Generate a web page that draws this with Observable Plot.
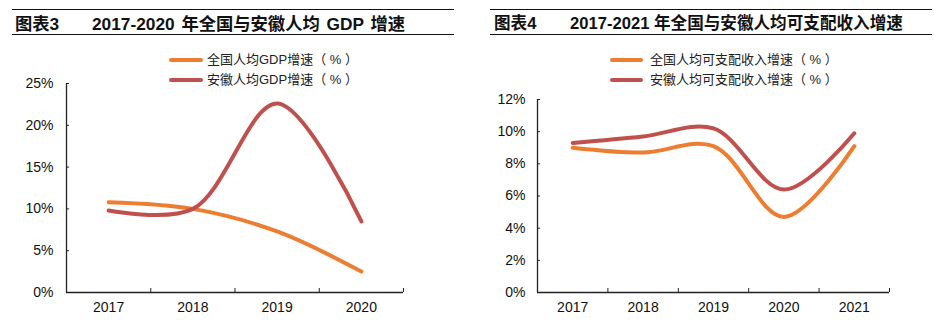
<!DOCTYPE html>
<html><head><meta charset="utf-8">
<script src="https://cdn.jsdelivr.net/npm/d3@7"></script>
<script src="https://cdn.jsdelivr.net/npm/@observablehq/plot@0.6"></script>
<style>
  body{margin:0;background:#fff;width:934px;height:322px;overflow:hidden;font-family:"Liberation Sans","Noto Sans CJK SC",sans-serif;}
  .panel{position:absolute;top:0;width:467px;height:322px;}
  .rule{position:absolute;height:0;border-top:1.6px solid #111;}
  .title{position:absolute;top:13px;font-size:16.6px;font-weight:bold;color:#111;font-family:"Liberation Sans","Noto Sans CJK SC",sans-serif;white-space:nowrap;line-height:22px;}
  .leg{position:absolute;font-size:13px;color:#222;white-space:nowrap;line-height:16px;font-family:"Liberation Sans","Noto Sans CJK SC",sans-serif;}
  .leg span.sw{position:absolute;height:4px;border-radius:2px;}
</style>
</head><body>
<div class="panel" id="p1" style="left:0"></div>
<div class="panel" id="p2" style="left:467px"></div>
<script>
// ---- Chart 3 data ----
const years3 = [2017, 2018, 2019, 2020];
const national3 = [10.8, 10.0, 7.3, 2.5];
const anhui3 = [9.8, 10.0, 22.6, 8.5];
const yTicks3 = [0, 5, 10, 15, 20, 25];
const series3Names = ["全国人均GDP增速（ % ）", "安徽人均GDP增速（ % ）"];
const title3a = "图表3";
const title3b = "2017-2020 年全国与安徽人均 GDP 增速";

// ---- Chart 4 data ----
const years4 = [2017, 2018, 2019, 2020, 2021];
const national4 = [9.0, 8.7, 9.1, 4.7, 9.1];
const anhui4 = [9.3, 9.7, 10.2, 6.4, 9.9];
const yTicks4 = [0, 2, 4, 6, 8, 10, 12];
const series4Names = ["全国人均可支配收入增速（ % ）", "安徽人均可支配收入增速（ % ）"];
const title4a = "图表4";
const title4b = "2017-2021 年全国与安徽人均可支配收入增速";

const colors = ["#ED7D31", "#C0504D"];

function buildPanel(el, o) {
  const r1 = document.createElement("div"); r1.className = "rule";
  r1.style.cssText = `left:${o.ruleL}px;width:${o.ruleW}px;top:9px;`; el.appendChild(r1);
  const r2 = document.createElement("div"); r2.className = "rule";
  r2.style.cssText = `left:${o.ruleL}px;width:${o.ruleW}px;top:34px;`; el.appendChild(r2);
  const t1 = document.createElement("div"); t1.className = "title";
  t1.style.left = o.t1x + "px"; t1.style.fontSize = o.tfs + "px"; t1.textContent = o.titleA; el.appendChild(t1);
  const t2 = document.createElement("div"); t2.className = "title";
  t2.style.left = o.t2x + "px"; t2.style.fontSize = o.tfs + "px"; t2.style.wordSpacing = o.ws + "px"; t2.textContent = o.titleB; el.appendChild(t2);
  o.names.forEach((n, i) => {
    const lg = document.createElement("div"); lg.className = "leg";
    lg.style.left = o.legTextX + "px"; lg.style.top = (52 + i * 20) + "px";
    lg.textContent = n;
    const sw = document.createElement("span"); sw.className = "sw";
    sw.style.cssText = `left:${o.legLineX - o.legTextX}px;width:${o.legLineW}px;top:6px;background:${colors[i]};`;
    lg.appendChild(sw);
    el.appendChild(lg);
  });
  const data = [];
  o.years.forEach((y, i) => {
    data.push({year: y, v: o.s1[i], s: o.names[0]});
    data.push({year: y, v: o.s2[i], s: o.names[1]});
  });
  const xDom = [o.years[0] - 0.5, o.years[o.years.length - 1] + 0.5];
  const bounds = o.years.map(y => y + 0.5);
  const chart = Plot.plot({
    width: 467, height: 252,
    marginLeft: o.mL, marginRight: o.mR, marginTop: o.mT, marginBottom: 30,
    style: {fontFamily: "Liberation Sans, Arial, sans-serif", fontSize: "14px", color: "#111", background: "transparent"},
    x: {type: "linear", domain: xDom},
    y: {domain: [0, o.yTicks[o.yTicks.length - 1]]},
    marks: [
      Plot.line(data.filter(d => d.s === o.names[0]), {x: "year", y: "v", stroke: colors[0], strokeWidth: 4, curve: "catmull-rom", strokeLinecap: "round"}),
      Plot.line(data.filter(d => d.s === o.names[1]), {x: "year", y: "v", stroke: colors[1], strokeWidth: 4, curve: "catmull-rom", strokeLinecap: "round"}),
      Plot.axisX({ticks: o.years, tickSize: 0, tickPadding: 10, tickFormat: d => String(d), label: null, fill: "#111"}),
      Plot.axisX({ticks: bounds, tickSize: 4, dy: -4, tickFormat: () => "", label: null, stroke: "#222"}),
      Plot.axisY({ticks: o.yTicks, tickSize: 0, tickPadding: o.yPad, tickFormat: d => d + "%", label: null, fill: "#111"}),
      Plot.axisY({ticks: o.yTicks, tickSize: 3, dx: 3, tickFormat: () => "", label: null, stroke: "#222"}),
      Plot.ruleX([xDom[0]], {stroke: "#222", strokeWidth: 1.3}),
      Plot.ruleY([0], {stroke: "#222", strokeWidth: 1.3})
    ]
  });
  chart.style.position = "absolute"; chart.style.top = "70px"; chart.style.left = "0px";
  el.appendChild(chart);
}

buildPanel(document.getElementById("p1"), {
  ruleL: 12, ruleW: 442, t1x: 15, t2x: 92, ws: 2, tfs: 17.3, titleA: title3a, titleB: title3b,
  names: series3Names, legLineX: 169, legLineW: 34, legTextX: 207,
  years: years3, s1: national3, s2: anhui3, yTicks: yTicks3,
  mL: 66, mR: 64, mT: 13, yPad: 13
});
buildPanel(document.getElementById("p2"), {
  ruleL: 23, ruleW: 442, t1x: 27, t2x: 103, ws: 0, tfs: 16.6, titleA: title4a, titleB: title4b,
  names: series4Names, legLineX: 143, legLineW: 33, legTextX: 183,
  years: years4, s1: national4, s2: anhui4, yTicks: yTicks4,
  mL: 70, mR: 45, mT: 29, yPad: 12
});
</script>
</body></html>
